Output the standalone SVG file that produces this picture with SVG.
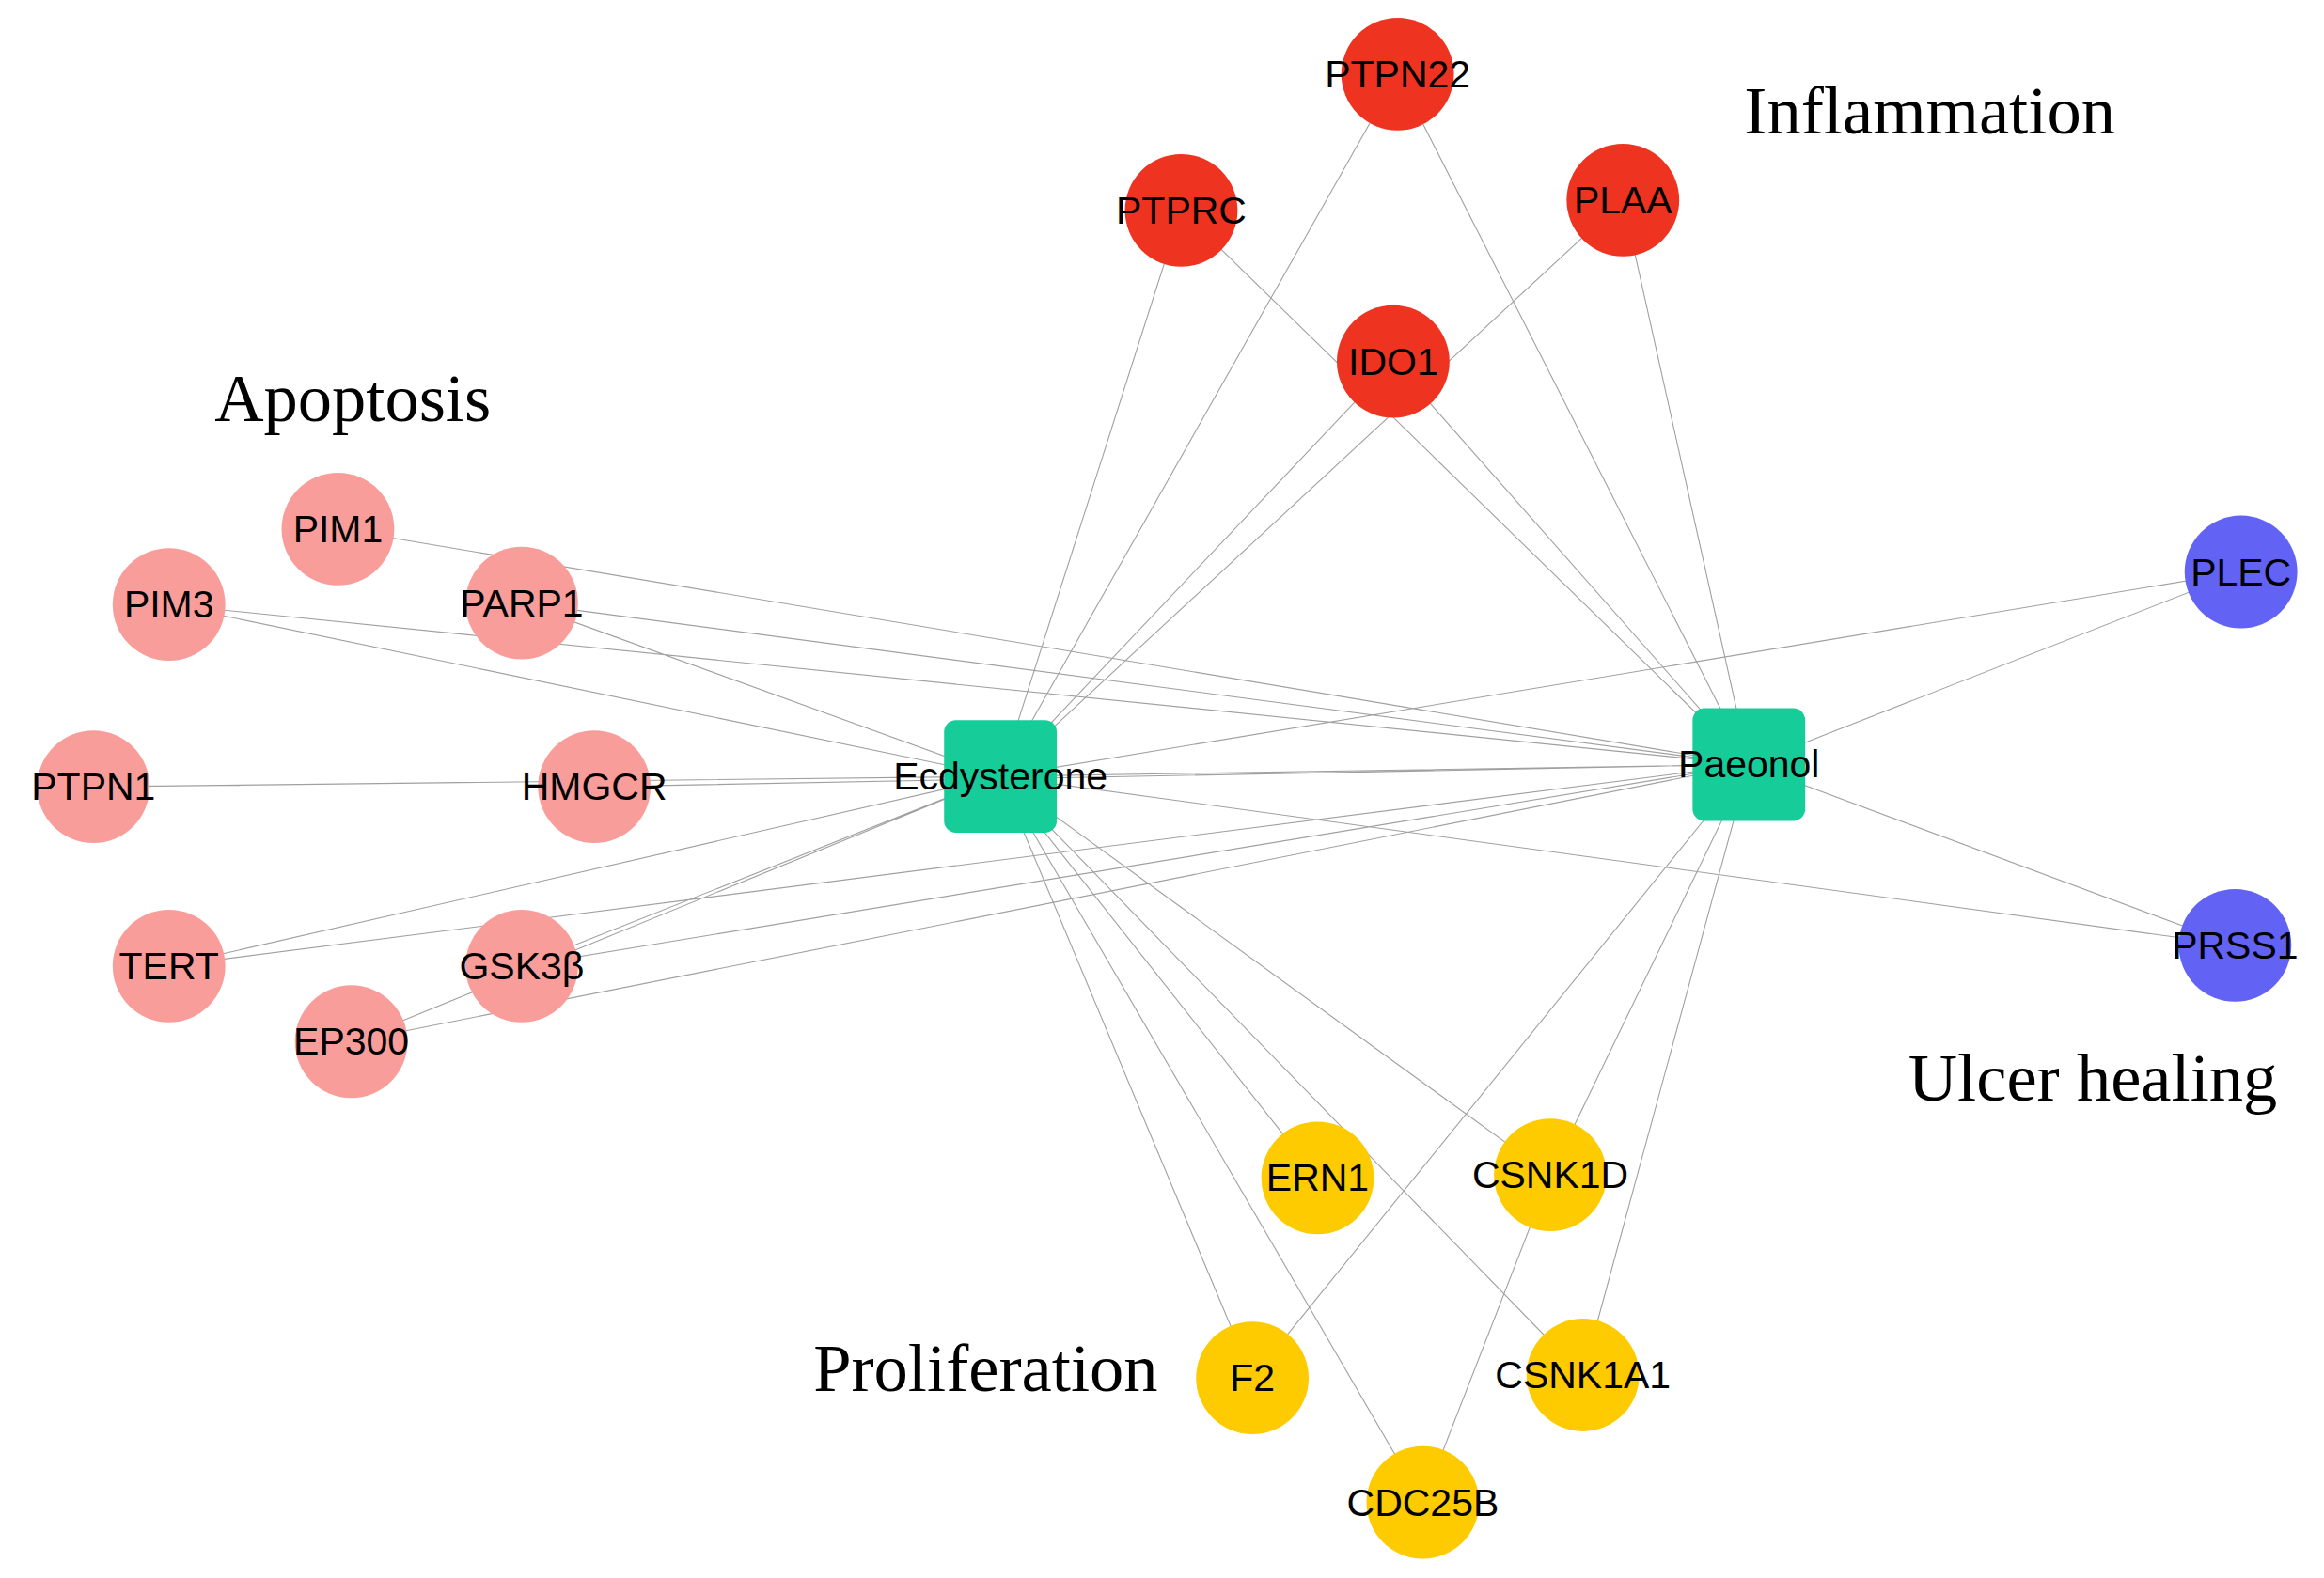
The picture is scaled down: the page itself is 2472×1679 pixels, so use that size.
<svg xmlns="http://www.w3.org/2000/svg" width="2472" height="1679" viewBox="0 0 2472 1679">
<style>
.e{stroke:#a0a0a0;stroke-width:0.7;fill:none}
.r{fill:#ee3320}.p{fill:#f99d9a}.b{fill:#6262f5}.y{fill:#fecb00}.g{fill:#16cc98}
.l{font-family:"Liberation Sans",Arial,sans-serif;font-size:26px;fill:#000;text-anchor:middle;dominant-baseline:central}
.t{font-family:"Liberation Serif","Times New Roman",serif;font-size:46px;fill:#000;text-anchor:middle}
</style>
<rect width="2472" height="1679" fill="#fff"/>
<g transform="scale(1.5765)">
<g id="edges">
<path class="e" d="M675 524L943 50M675 524L797 142M675 524L1095 135M675 524L940 244M1180 516L943 50M1180 516L797 142M1180 516L1095 135M1180 516L940 244M1180 516L228 357M675 524L114 408M1180 516L114 408M675 524L352 407M1180 516L352 407M675 524L63 531M1180 516L401 531M675 524L114 652M1180 516L114 652M675 524L352 652M1180 516L352 652M675 524L237 703M1180 516L237 703M675 524L1512 386M1180 516L1512 386M675 524L1508 638M1180 516L1508 638M675 524L889 795M675 524L1046 793M1180 516L1046 793M675 524L845 930M1180 516L845 930M675 524L1068 928M1180 516L1068 928M675 524L960 1014M1046 793L960 1014M675 524L1180 516"/>
</g>
<g id="PTPN22"><circle class="r" cx="943" cy="50" r="38"/><text class="l" x="943" y="50">PTPN22</text></g>
<g id="PTPRC"><circle class="r" cx="797" cy="142" r="38"/><text class="l" x="797" y="142">PTPRC</text></g>
<g id="PLAA"><circle class="r" cx="1095" cy="135" r="38"/><text class="l" x="1095" y="135">PLAA</text></g>
<g id="IDO1"><circle class="r" cx="940" cy="244" r="38"/><text class="l" x="940" y="244">IDO1</text></g>
<g id="PIM1"><circle class="p" cx="228" cy="357" r="38"/><text class="l" x="228" y="357">PIM1</text></g>
<g id="PIM3"><circle class="p" cx="114" cy="408" r="38"/><text class="l" x="114" y="408">PIM3</text></g>
<g id="PARP1"><circle class="p" cx="352" cy="407" r="38"/><text class="l" x="352" y="407">PARP1</text></g>
<g id="PTPN1"><circle class="p" cx="63" cy="531" r="38"/><text class="l" x="63" y="531">PTPN1</text></g>
<g id="HMGCR"><circle class="p" cx="401" cy="531" r="38"/><text class="l" x="401" y="531">HMGCR</text></g>
<g id="TERT"><circle class="p" cx="114" cy="652" r="38"/><text class="l" x="114" y="652">TERT</text></g>
<g id="GSK3b"><circle class="p" cx="352" cy="652" r="38"/><text class="l" x="352" y="652">GSK3β</text></g>
<g id="EP300"><circle class="p" cx="237" cy="703" r="38"/><text class="l" x="237" y="703">EP300</text></g>
<g id="PLEC"><circle class="b" cx="1512" cy="386" r="38"/><text class="l" x="1512" y="386">PLEC</text></g>
<g id="PRSS1"><circle class="b" cx="1508" cy="638" r="38"/><text class="l" x="1508" y="638">PRSS1</text></g>
<g id="ERN1"><circle class="y" cx="889" cy="795" r="38"/><text class="l" x="889" y="795">ERN1</text></g>
<g id="CSNK1D"><circle class="y" cx="1046" cy="793" r="38"/><text class="l" x="1046" y="793">CSNK1D</text></g>
<g id="F2"><circle class="y" cx="845" cy="930" r="38"/><text class="l" x="845" y="930">F2</text></g>
<g id="CSNK1A1"><circle class="y" cx="1068" cy="928" r="38"/><text class="l" x="1068" y="928">CSNK1A1</text></g>
<g id="CDC25B"><circle class="y" cx="960" cy="1014" r="38"/><text class="l" x="960" y="1014">CDC25B</text></g>
<g id="Ecdysterone"><rect class="g" x="637" y="486" width="76" height="76" rx="8"/><text class="l" x="675" y="524">Ecdysterone</text></g>
<g id="Paeonol"><rect class="g" x="1142" y="478" width="76" height="76" rx="8"/><text class="l" x="1180" y="516">Paeonol</text></g>
<text class="t" x="1302" y="90">Inflammation</text>
<text class="t" x="238" y="284">Apoptosis</text>
<text class="t" x="1412" y="743">Ulcer healing</text>
<text class="t" x="665" y="939">Proliferation</text>
</g>
</svg>
